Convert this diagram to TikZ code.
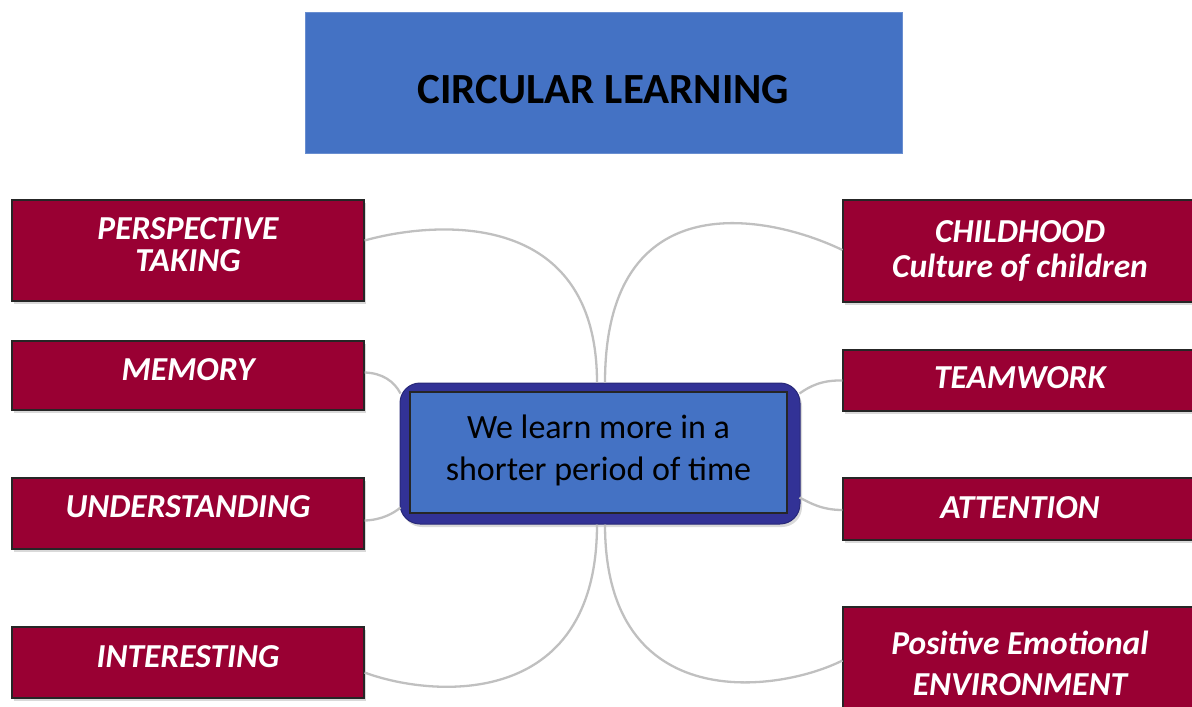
\documentclass[tikz,border=0pt]{standalone}
\usepackage{fontspec}
\setmainfont{Carlito}
\usetikzlibrary{calc,shadows}
\definecolor{titleblue}{RGB}{68,114,196}
\definecolor{boxred}{RGB}{153,0,51}
\definecolor{ringblue}{RGB}{50,50,150}
\definecolor{linegray}{RGB}{192,192,192}
\begin{document}
\begin{tikzpicture}[x=1pt,y=-1pt,
  redbox/.style={draw=black!85, line width=1.2pt, fill=boxred, text=white,
    font=\fontsize{33.5}{33}\selectfont\bfseries\itshape, align=center, inner sep=0pt,
    drop shadow={shadow xshift=2pt, shadow yshift=-3pt, opacity=0.3}},
  titlebox/.style={fill=titleblue, draw=titleblue!80!white, line width=0.5pt, inner sep=0pt,
    font=\fontsize{43}{44}\selectfont\bfseries, text height=43pt},
  link/.style={draw=linegray, line width=2.3pt}]
\useasboundingbox (0,0) rectangle (1192,707);

% title
\node[titlebox, minimum width=597pt, minimum height=141pt] (title) at (603.5,82.5) {CIRCULAR LEARNING};

% left boxes
\node[redbox, minimum width=352pt, minimum height=101pt, text depth=11pt] (pt) at (188,250.5) {PERSPECTIVE\\[-1pt]TAKING};
\node[redbox, minimum width=352pt, minimum height=69pt, text depth=12pt] (mem) at (188,375.5) {MEMORY};
\node[redbox, minimum width=352pt, minimum height=71pt, text depth=13pt] (und) at (188,513.5) {UNDERSTANDING};
\node[redbox, minimum width=352pt, minimum height=71pt, text depth=11pt] (int) at (188,662.5) {INTERESTING};

% right boxes
\node[redbox, minimum width=354pt, minimum height=102pt] (ch) at (1020,251) {CHILDHOOD\\[2pt]Culture of children};
\node[redbox, minimum width=354pt, minimum height=61pt, text depth=5pt] (tw) at (1020,380.5) {TEAMWORK};
\node[redbox, minimum width=354pt, minimum height=62pt, text depth=2pt] (at) at (1020,509) {ATTENTION};
\node[redbox, minimum width=354pt, minimum height=113pt] (pe) at (1020,663.5) {Positive Emotional\\[8pt]ENVIRONMENT};

% central
\node[fill=ringblue, draw=ringblue!80!black, line width=1pt, rounded corners=20pt,
  minimum width=400pt, minimum height=141pt,
  drop shadow={shadow xshift=2pt, shadow yshift=-3pt, opacity=0.3}] (cen) at (600,453.5) {};
\node[fill=titleblue, draw=black!85, line width=1.2pt, minimum width=377pt, minimum height=121pt,
  align=center, font=\fontsize{34}{42}\selectfont, text depth=10pt] (cin) at (598.5,452.5) {We learn more in a\\shorter period of time};

% connectors
\draw[link] ($(pt.east)+(0,-10)$) .. controls (430,222) and (597,205) .. ($(cen.north)+(-3,0)$);
\draw[link] ($(ch.west)+(0,-1)$) .. controls (770,215) and (605,180) .. ($(cen.north)+(5,0)$);
\draw[link] ($(int.east)+(0,10)$) .. controls (430,697) and (597,712) .. ($(cen.south)+(-3,0)$);
\draw[link] ($(pe.west)+(0,-3)$) .. controls (780,692) and (605,718) .. ($(cen.south)+(5,0)$);
\draw[link] ($(mem.east)+(0,-3)$) .. controls (382,373) and (394,381) .. ($(cen.west)+(1,-60)$);
\draw[link] ($(und.east)+(0,7)$) .. controls (382,520) and (394,513) .. ($(cen.west)+(1,54)$);
\draw[link] ($(tw.west)+(0,0)$) .. controls (822,380) and (810,386) .. ($(cen.east)+(-1,-60)$);
\draw[link] ($(at.west)+(0,1)$) .. controls (822,510) and (810,503) .. ($(cen.east)+(-1,44)$);
\end{tikzpicture}
\end{document}
